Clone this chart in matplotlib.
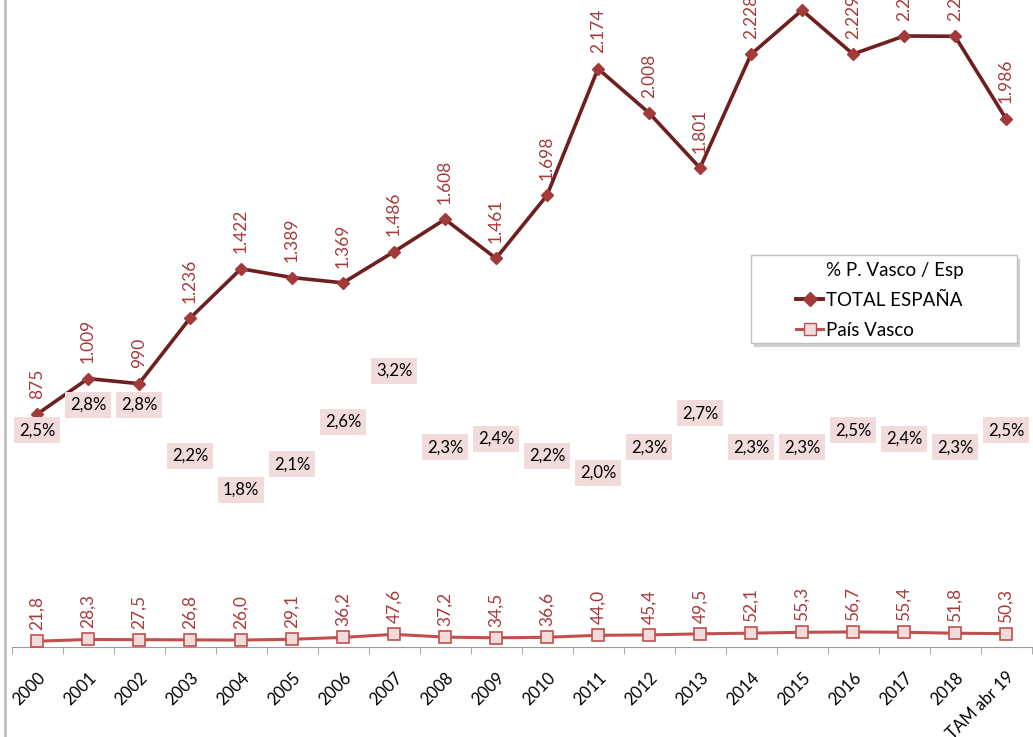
import numpy as np
import matplotlib
matplotlib.use("Agg")
import matplotlib.pyplot as plt
from matplotlib.lines import Line2D
from matplotlib.patches import Rectangle

plt.rcParams['font.family'] = ['Lato', 'DejaVu Sans']

years = ['2000', '2001', '2002', '2003', '2004', '2005', '2006', '2007', '2008', '2009',
         '2010', '2011', '2012', '2013', '2014', '2015', '2016', '2017', '2018', 'TAM abr 19']
total_espana = [875, 1009, 990, 1236, 1422, 1389, 1369, 1486, 1608, 1461,
                1698, 2174, 2008, 1801, 2228, 2394, 2229, 2297, 2296, 1986]
pais_vasco = [21.8, 28.3, 27.5, 26.8, 26.0, 29.1, 36.2, 47.6, 37.2, 34.5,
              36.6, 44.0, 45.4, 49.5, 52.1, 55.3, 56.7, 55.4, 51.8, 50.3]
pct_pv_esp = [2.5, 2.8, 2.8, 2.2, 1.8, 2.1, 2.6, 3.2, 2.3, 2.4,
              2.2, 2.0, 2.3, 2.7, 2.3, 2.3, 2.5, 2.4, 2.3, 2.5]

W, H = 1033, 737
fig = plt.figure(figsize=(W / 100, H / 100), dpi=100)
ax = fig.add_axes([11.5 / W, 1 - 647 / H, 1020 / W, 665 / H])
x = np.arange(len(years))

label_red = '#A8393B'
ax.plot(x, total_espana, color='#6E1F1F', lw=2.6, marker='D', ms=6.5,
        mfc='#A33A3A', mec='#A33A3A', zorder=3)
ax.plot(x, pais_vasco, color='#C0504D', lw=2.2, marker='s', ms=8,
        mfc='#F2DCDB', mec='#C0504D', mew=1.2, zorder=3)

for xi, v in zip(x, total_espana):
    ax.annotate(f"{v:,}".replace(',', '.'), (xi, v), xytext=(0, 11),
                textcoords='offset points', rotation=90, ha='center', va='bottom',
                color=label_red, fontsize=12.5)
for xi, v in zip(x, pais_vasco):
    ax.annotate(f"{v:.1f}".replace('.', ','), (xi, v), xytext=(0, 8),
                textcoords='offset points', rotation=90, ha='center', va='bottom',
                color=label_red, fontsize=12.5)

ax.set_xlim(-0.5, len(years) - 0.5)
ax.set_ylim(0, 2500)
for s in ['left', 'right', 'top']:
    ax.spines[s].set_visible(False)
ax.spines['bottom'].set_color('#9A9A9A')
ax.set_yticks([])
ax.set_xticks(x)
ax.set_xticklabels(years, rotation=45, ha='right', rotation_mode='anchor', fontsize=12)
ax.tick_params(axis='x', which='major', length=0, pad=16)
ax.set_xticks(np.arange(-0.5, len(years)), minor=True)
ax.tick_params(axis='x', which='minor', length=5, color='#9A9A9A')

# percentage series on a hidden secondary axis, only its labels are shown
ax2 = ax.twinx()
ax2.set_ylim(-0.05, 7.77)
ax2.axis('off')
for xi, p in zip(x, pct_pv_esp):
    ax2.text(xi, p, f"{p:.1f}%".replace('.', ','), ha='center', va='center',
             fontsize=12, color='black',
             bbox=dict(boxstyle='square,pad=0.3', fc='#F2DCDB', ec='none'))

# legend box with a soft shadow
fig.add_artist(Rectangle((754 / W, 1 - 347 / H), 266 / W, 88 / H,
                         transform=fig.transFigure, fc='#D0D0D0', ec='none', zorder=4))
fig.add_artist(Rectangle((751 / W, 1 - 343 / H), 266 / W, 88 / H,
                         transform=fig.transFigure, fc='white', ec='#BFBFBF',
                         lw=1.0, zorder=5))
handles = [
    Line2D([], [], color='none', label='% P. Vasco / Esp'),
    Line2D([], [], color='#6E1F1F', lw=2.8, marker='D', ms=7,
           mfc='#A33A3A', mec='#A33A3A', label='TOTAL ESPAÑA'),
    Line2D([], [], color='#C0504D', lw=2.2, marker='s', ms=8,
           mfc='#F2DCDB', mec='#C0504D', label='País Vasco'),
]
leg = fig.legend(handles=handles, loc='upper left',
                 bbox_to_anchor=(796 / W, 1 - 262 / H), fontsize=13.5,
                 frameon=False, handlelength=1.45, handletextpad=0.15,
                 borderpad=0, labelspacing=0.68, borderaxespad=0)
leg.set_zorder(6)

# chart area border on the left
fig.add_artist(Line2D([4.5 / W, 4.5 / W], [0, 1], color='#BFBFBF', lw=2,
                      transform=fig.transFigure))

fig.savefig('out.png', dpi=100)
